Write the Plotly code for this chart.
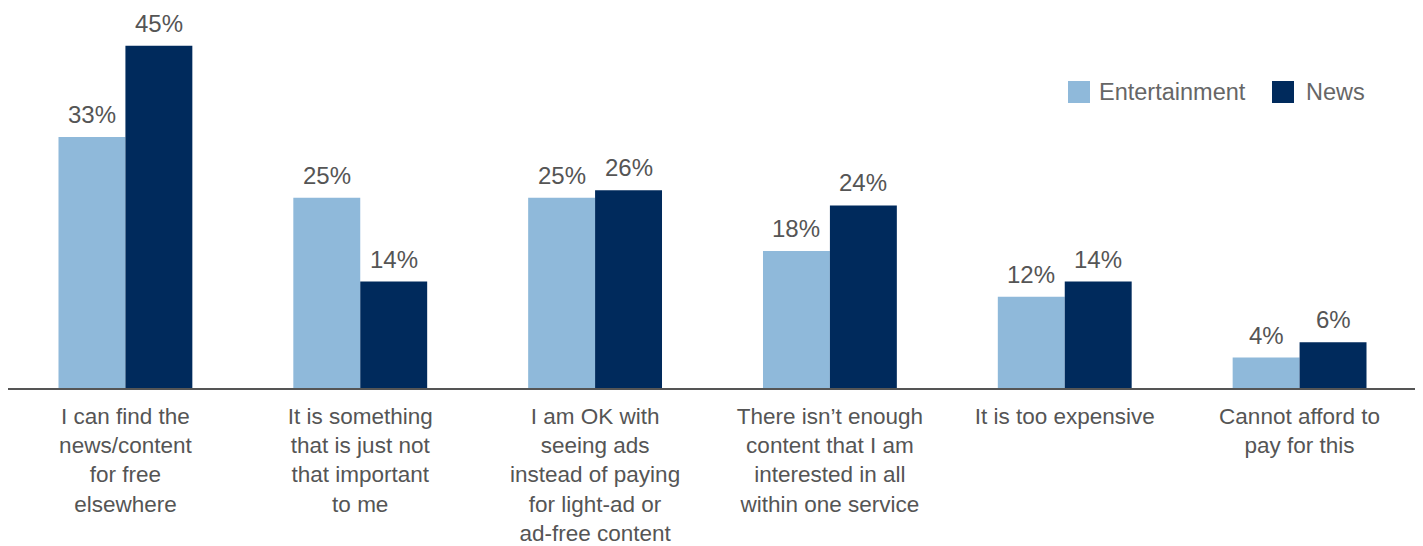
import plotly.graph_objects as go

categories = [
    "I can find the<br>news/content<br>for free<br>elsewhere",
    "It is something<br>that is just not<br>that important<br>to me",
    "I am OK with<br>seeing ads<br>instead of paying<br>for light-ad or<br>ad-free content",
    "There isn\u2019t enough<br>content that I am<br>interested in all<br>within one service",
    "It is too expensive",
    "Cannot afford to<br>pay for this",
]
entertainment = [33, 25, 25, 18, 12, 4]
news = [45, 14, 26, 24, 14, 6]
series_names = ["Entertainment", "News"]
colors = ["#8fb9da", "#002a5c"]

FONT = "Liberation Sans, Arial, Helvetica, sans-serif"
# page has an 8px body margin, so the figure is sized to fit the window
W, H = 1415, 538
ML, MR, MT, MB = 0, 6, 2, 158
BARGAP = 0.43
YMAX = 49.7

fig = go.Figure()
for name, vals, col in zip(series_names, [entertainment, news], colors):
    fig.add_trace(go.Bar(
        x=categories, y=vals, name=name, marker=dict(color=col, line=dict(width=0)),
        showlegend=False, hoverinfo="skip",
    ))

plot_w = W - ML - MR
plot_h = H - MT - MB
cat_px = plot_w / len(categories)
bar_px = cat_px * (1 - BARGAP) / 2

# data labels above each bar
for i, vals in enumerate([entertainment, news]):
    shift = (-0.5 if i == 0 else 0.5) * bar_px
    for c, v in zip(categories, vals):
        fig.add_annotation(
            x=c, y=v, text=f"{v}%", showarrow=False, xshift=shift, yshift=7,
            yanchor="bottom", font=dict(family=FONT, size=24, color="#555555"),
        )

# legend (drawn manually to get large square swatches)
def px_to_paper_x(px):
    return (px - ML) / plot_w

def px_to_paper_y(py):
    return (MT + plot_h - py) / plot_h

legend_items = [(1060, 1089), (1264, 1296)]
SW = 22
LEG_Y = 84
for (sx, tx), name, col in zip(legend_items, series_names, colors):
    fig.add_shape(
        type="rect", xref="paper", yref="paper",
        x0=px_to_paper_x(sx), x1=px_to_paper_x(sx + SW),
        y0=px_to_paper_y(LEG_Y - SW / 2), y1=px_to_paper_y(LEG_Y + SW / 2),
        fillcolor=col, line=dict(width=0),
    )
    fig.add_annotation(
        xref="paper", yref="paper", x=px_to_paper_x(tx), y=px_to_paper_y(LEG_Y),
        xanchor="left", yanchor="middle", text=name, showarrow=False,
        font=dict(family=FONT, size=23.5, color="#666666"),
    )

fig.update_layout(
    width=W, height=H,
    margin=dict(l=ML, r=MR, t=MT, b=MB, autoexpand=False),
    paper_bgcolor="white", plot_bgcolor="white",
    barmode="group", bargap=BARGAP, bargroupgap=0,
    font=dict(family=FONT, size=22.5, color="#555555"),
    showlegend=False,
    xaxis=dict(
        showline=True, linecolor="#555555", linewidth=1.5, ticks="",
        tickfont=dict(family=FONT, size=22.5, color="#555555"),
        ticklabelstandoff=7, automargin=False,
        showgrid=False, zeroline=False, fixedrange=True,
    ),
    yaxis=dict(
        range=[0, YMAX], visible=False, showgrid=False, zeroline=False,
    ),
)

fig.write_html("out.html")
